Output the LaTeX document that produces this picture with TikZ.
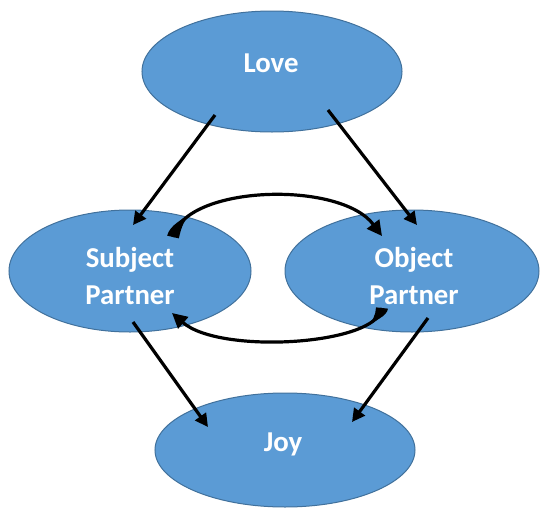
\documentclass[tikz,border=0pt]{standalone}
\usepackage{fontspec}
\setmainfont{Carlito}
\usetikzlibrary{shapes.geometric,arrows.meta,calc}
\definecolor{blobfill}{HTML}{5B9BD5}
\definecolor{blobline}{HTML}{41719C}
\begin{document}
\begin{tikzpicture}[x=0.5pt,y=-0.5pt,
  blob/.style={ellipse,fill=blobfill,draw=blobline,line width=0.5pt,inner sep=0pt},
  lbl/.style={text=white,font=\bfseries\fontsize{14.4}{18.5}\selectfont,align=center,inner sep=0pt},
  link/.style={line width=1.6pt,-{Triangle[length=6.5pt,width=6.5pt]}},
  cycle arrow/.style={line width=1.6pt,-{Triangle[length=7.5pt,width=7.5pt]}},
]
\useasboundingbox (0,0) rectangle (542,509);

% ellipses
\node[blob,minimum width=130pt,minimum height=60.5pt] (love) at (272,71.5) {};
\node[blob,minimum width=121pt,minimum height=61pt] (subj) at (130,271) {};
\node[blob,minimum width=127pt,minimum height=61pt] (obj) at (412,271) {};
\node[blob,minimum width=130pt,minimum height=57pt] (joy) at (285,450) {};

% labels
\node[lbl] (loveText) at (271,63.5) {Love};
\node[lbl] (subjText) at (130,276) {Subject\\Partner};
\node[lbl] (objText) at (414,276) {Object\\Partner};
\node[lbl] (joyText) at (283,444) {Joy};

% straight connectors
\coordinate (loveL) at ($(love)+(-57,43.5)$);
\coordinate (loveR) at ($(love)+(56,38.5)$);
\coordinate (subjIn) at ($(subj)+(3,-46)$);
\coordinate (objIn) at ($(obj)+(5,-46)$);
\coordinate (subjOut) at ($(subj)+(3,51)$);
\coordinate (objOut) at ($(obj)+(16,47)$);
\coordinate (joyInL) at ($(joy)+(-77,-23)$);
\coordinate (joyInR) at ($(joy)+(67,-28)$);

\draw[link] (loveL) -- (subjIn);
\draw[link] (loveR) -- (objIn);
\draw[link] (subjOut) -- (joyInL);
\draw[link] (objOut) -- (joyInR);

% reciprocal curved connectors
\coordinate (sTop) at (173,237);
\coordinate (oTop) at (382,236);
\coordinate (oBot) at (382,308);
\coordinate (sBot) at (172,313);

\draw[cycle arrow] (sTop) .. controls (185,185) and (340,180) .. (oTop);
\draw[cycle arrow] (oBot) .. controls (378,345) and (220,355) .. (sBot);

% thick tapered tails along the first part of each curve
\fill ($(sTop)+(5.84,1.35)$) .. controls (181.24,227.95) and (183.5,218.1) .. (195.3,211.5)
      .. controls (183.5,218.1) and (169.56,225.25) .. ($(sTop)+(-5.84,-1.35)$) -- cycle;
\fill ($(oBot)+(5.96,0.64)$) .. controls (387.16,316.04) and (374.3,321.7) .. (363.3,326.8)
      .. controls (374.3,321.7) and (375.24,314.76) .. ($(oBot)+(-5.96,-0.64)$) -- cycle;
\end{tikzpicture}
\end{document}
